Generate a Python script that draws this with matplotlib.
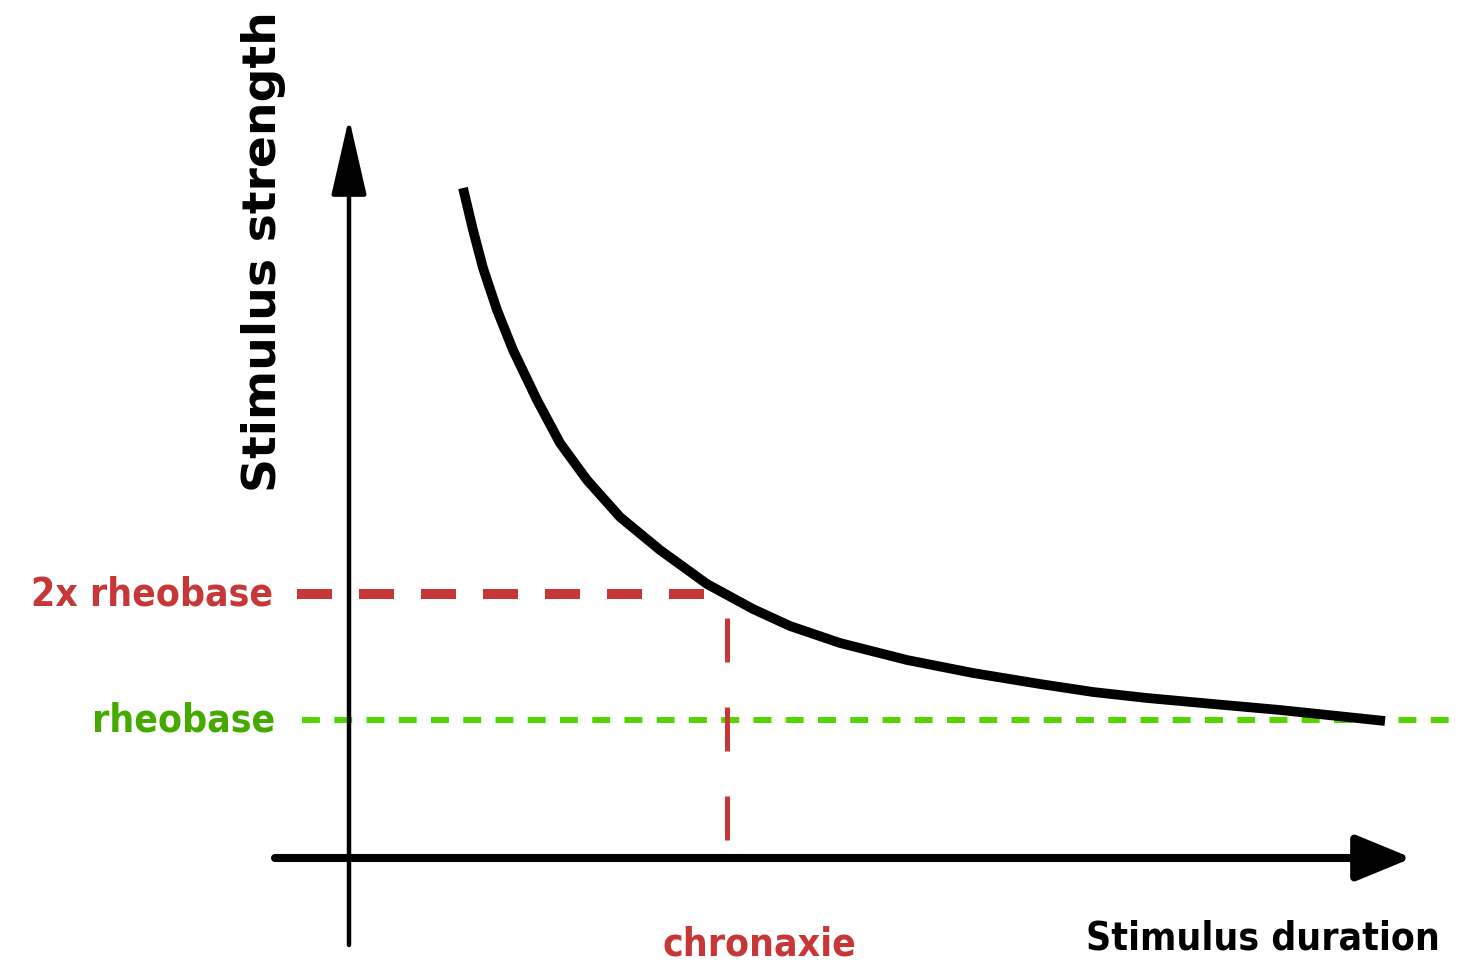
import matplotlib
matplotlib.use("Agg")
import matplotlib.pyplot as plt

# strength-duration curve (arbitrary units)
duration = [1.14, 1.24, 1.34, 1.48, 1.64, 1.88, 2.11, 2.38, 2.71, 3.11, 3.58, 4.04,
            4.41, 4.91, 5.58, 6.24, 6.91, 7.44, 7.98, 8.64, 9.31, 9.98, 10.36]
strength = [6.70, 6.28, 5.90, 5.48, 5.08, 4.58, 4.15, 3.78, 3.41, 3.08, 2.74, 2.49,
            2.32, 2.15, 1.98, 1.85, 1.74, 1.66, 1.60, 1.54, 1.48, 1.41, 1.37]
rheobase = 1.38
rheobase_2x = 2.64
chronaxie = 3.78

RED = '#c83737'
GREEN_LINE = '#55d400'
GREEN_TEXT = '#44aa00'

fig = plt.figure(figsize=(14.66, 9.69), dpi=100)
ax = fig.add_axes([0, 0, 1, 1])
ax.set_xlim(-3.49, 11.17)
ax.set_ylim(-1.11, 8.58)
ax.axis('off')

# axes with arrow heads
ax.annotate('', xy=(0, 7.40), xytext=(0, -0.87),
            arrowprops=dict(arrowstyle='-|>,head_length=48,head_width=11',
                            lw=3.2, color='black', shrinkA=0, shrinkB=0,
                            mutation_scale=1))
ax.annotate('', xy=(10.63, 0), xytext=(-0.74, 0),
            arrowprops=dict(arrowstyle='-|>,head_length=34,head_width=14',
                            lw=5.8, color='black', shrinkA=0, shrinkB=0,
                            mutation_scale=1))

# rheobase / 2x rheobase / chronaxie guides
ax.plot([-0.47, 11.07], [rheobase, rheobase], color=GREEN_LINE, lw=4.3,
        linestyle=(0, (3.0, 2.4)), zorder=2)
ax.plot([-0.52, 3.63], [rheobase_2x, rheobase_2x], color=RED, lw=7.2,
        linestyle=(0, (3.5, 2.7)), zorder=2)
ax.plot([chronaxie, chronaxie], [rheobase_2x, 0.18], color=RED, lw=3.6,
        linestyle=(13, (8.8, 9.0)), zorder=2)

# curve
ax.plot(duration, strength, color='black', lw=7, solid_capstyle='butt',
        solid_joinstyle='round', zorder=3)

font = dict(family='DejaVu Sans', weight='bold', stretch='condensed')
ax.text(-0.76, (858 - 606) / 100, '2x rheobase', color=RED, fontsize=28,
        ha='right', va='baseline', **font)
ax.text(-0.74, (858 - 731) / 100, 'rheobase', color=GREEN_TEXT, fontsize=28,
        ha='right', va='baseline', **font)
ax.text(chronaxie + 0.32, (858 - 955) / 100, 'chronaxie', color=RED, fontsize=28,
        ha='center', va='baseline', **font)
ax.text(10.91, (858 - 950) / 100, 'Stimulus duration', color='black', fontsize=28,
        ha='right', va='baseline', **font)
ax.text(-0.86, (858 - 252) / 100, 'Stimulus strength', color='black', fontsize=34,
        rotation=90, ha='center', va='center', family='DejaVu Sans', weight='bold')

fig.savefig('out.png', dpi=100)
